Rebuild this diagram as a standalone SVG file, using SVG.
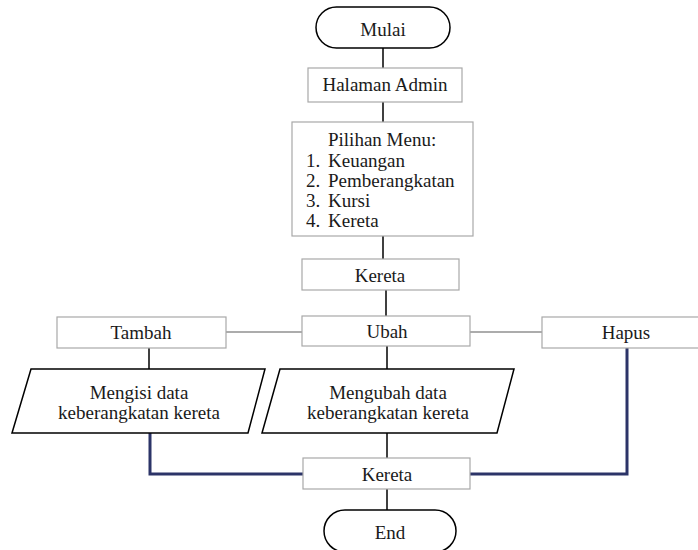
<svg xmlns="http://www.w3.org/2000/svg" width="698" height="550" viewBox="0 0 698 550">
<style>
text{font-family:"Liberation Serif","Times New Roman",serif;font-size:19px;fill:#1a1a1a}
.c{text-anchor:middle}
.box{fill:#fff;stroke:#a8a8a8;stroke-width:1.2}
.term{fill:#fff;stroke:#000;stroke-width:1.5}
.para{fill:#fff;stroke:#000;stroke-width:1.5}
.ln{stroke:#000;stroke-width:1.5;fill:none}
.gl{stroke:#909090;stroke-width:1.5;fill:none}
.bl{stroke:#2c3468;stroke-width:3;fill:none}
</style>
<rect width="698" height="550" fill="#fff"/>
<g id="connectors">
<path class="ln" d="M383 48V68"/>
<path class="ln" d="M383 102V122"/>
<path class="ln" d="M383 236V259"/>
<path class="ln" d="M386 290V316"/>
<path class="gl" d="M226 332H302"/>
<path class="gl" d="M470 332H542"/>
<path class="ln" d="M149 348V369"/>
<path class="ln" d="M387 346V369"/>
<path class="ln" d="M387 433V458"/>
<path class="bl" d="M150 433V474H303"/>
<path class="bl" d="M627 348V474H470"/>
<path class="ln" d="M387 489V510"/>
</g>
<g id="mulai">
<rect class="term" x="316" y="7" width="134" height="41" rx="20.5"/>
<text class="c" x="383" y="36">Mulai</text>
</g>
<g id="halaman-admin">
<rect class="box" x="308" y="68" width="154" height="34"/>
<text class="c" x="385" y="91">Halaman Admin</text>
</g>
<g id="pilihan-menu">
<rect class="box" x="292" y="122" width="181" height="114"/>
<text x="328" y="146">Pilihan Menu:</text>
<text x="306" y="167">1.</text><text x="328" y="167">Keuangan</text>
<text x="306" y="187">2.</text><text x="328" y="187">Pemberangkatan</text>
<text x="306" y="207">3.</text><text x="328" y="207">Kursi</text>
<text x="306" y="227">4.</text><text x="328" y="227">Kereta</text>
</g>
<g id="kereta1">
<rect class="box" x="302" y="259" width="157" height="31"/>
<text class="c" x="380" y="282">Kereta</text>
</g>
<g id="tambah">
<rect class="box" x="57" y="317" width="169" height="31"/>
<text class="c" x="141" y="339">Tambah</text>
</g>
<g id="ubah">
<rect class="box" x="302" y="316" width="168" height="30"/>
<text class="c" x="387" y="338">Ubah</text>
</g>
<g id="hapus">
<rect class="box" x="542" y="317" width="168" height="31"/>
<text class="c" x="626" y="339">Hapus</text>
</g>
<g id="mengisi">
<polygon class="para" points="31,369 265,369 248,433 12,433"/>
<text class="c" x="139" y="399">Mengisi data</text>
<text class="c" x="139" y="419">keberangkatan kereta</text>
</g>
<g id="mengubah">
<polygon class="para" points="280,369 514,369 497,433 262,433"/>
<text class="c" x="388" y="399">Mengubah data</text>
<text class="c" x="388" y="419">keberangkatan kereta</text>
</g>
<g id="kereta2">
<rect class="box" x="303" y="458" width="167" height="31"/>
<text class="c" x="387" y="481">Kereta</text>
</g>
<g id="end">
<rect class="term" x="324" y="510" width="132" height="42" rx="21"/>
<text class="c" x="390" y="539">End</text>
</g>
</svg>
